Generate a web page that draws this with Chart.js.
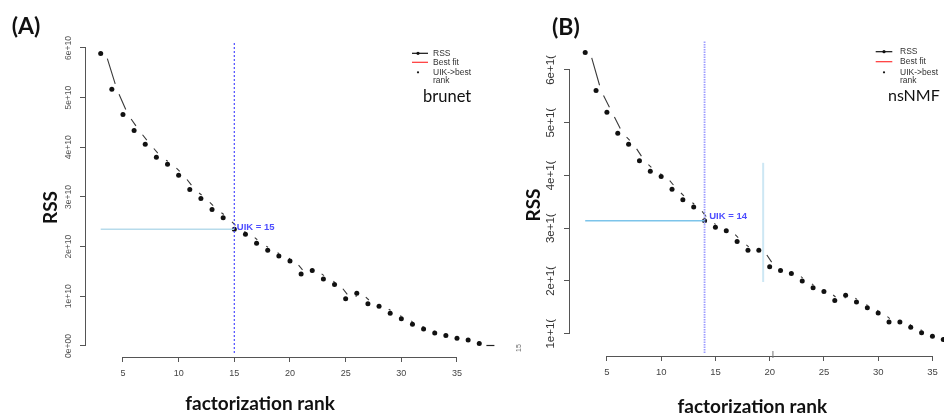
<!DOCTYPE html>
<html lang="en">
<head>
<meta charset="UTF-8">
<title>RSS by factorization rank: brunet and nsNMF</title>
<script src="https://cdn.jsdelivr.net/npm/chart.js"></script>
<style>
    * { margin: 0; padding: 0; box-sizing: border-box; }
    body { background: #fff; width: 948px; height: 414px; overflow: hidden; position: relative; }
    canvas { position: absolute; top: 0; }
    #chartA { left: 0; }
    #chartB { left: 474px; }
</style>
</head>
<body>
<canvas id="chartA" width="560" height="414"></canvas>
<canvas id="chartB" width="474" height="414"></canvas>
<script>
// RSS values are in units of 1e10
const ranksA = [3, 4, 5, 6, 7, 8, 9, 10, 11, 12, 13, 14, 15, 16, 17, 18, 19, 20,
                21, 22, 23, 24, 25, 26, 27, 28, 29, 30, 31, 32, 33, 34, 35, 36, 37, 38];
const rssA = [5.89, 5.17, 4.66, 4.34, 4.06, 3.80, 3.66, 3.44, 3.15, 2.97, 2.75, 2.58, 2.35, 2.25, 2.07, 1.93, 1.81, 1.71,
              1.45, 1.52, 1.35, 1.24, 0.95, 1.06, 0.85, 0.80, 0.66, 0.55, 0.44, 0.34, 0.26, 0.21, 0.155, 0.12, 0.05, 0.01];
const uikA = 15;

const ranksB = [3, 4, 5, 6, 7, 8, 9, 10, 11, 12, 13, 14, 15, 16, 17, 18, 19, 20,
                21, 22, 23, 24, 25, 26, 27, 28, 29, 30, 31, 32, 33, 34, 35, 36];
const rssB = [6.33, 5.61, 5.20, 4.80, 4.59, 4.28, 4.08, 3.98, 3.74, 3.54, 3.40, 3.14, 3.02, 2.95, 2.75, 2.58, 2.58, 2.27,
              2.20, 2.14, 2.00, 1.87, 1.80, 1.63, 1.73, 1.60, 1.49, 1.39, 1.22, 1.22, 1.12, 1.02, 0.95, 0.89];
const uikB = 14;

const xTicks = [5, 10, 15, 20, 25, 30, 35];
const yTicksA = [0, 1, 2, 3, 4, 5, 6];
const yLabelsA = ['0e+00', '1e+10', '2e+10', '3e+10', '4e+10', '5e+10', '6e+10'];
const yTicksB = [1, 2, 3, 4, 5, 6];
const yLabelsB = ['1e+1(', '2e+1(', '3e+1(', '4e+1(', '5e+1(', '6e+1('];

// extra light-blue guide in panel B: rank, top RSS, bottom RSS
const guideB = [19.4, 4.24, 1.98];

const rFont = '"Liberation Sans", Arial, sans-serif';
const pptFont = 'Lato, "Open Sans", sans-serif';

// R "type b" look: segments between points with a gap at each end
function gappedLine(ctx, pts, gap, dx) {
    ctx.beginPath();
    for (let i = 0; i < pts.length - 1; i++) {
        const a = pts[i], b = pts[i + 1];
        const vx = b.x - a.x, vy = b.y - a.y;
        const len = Math.hypot(vx, vy);
        if (len <= gap * 2 + 0.5) continue;
        const ux = vx / len, uy = vy / len;
        ctx.moveTo(a.x + dx + ux * gap, a.y + uy * gap);
        ctx.lineTo(b.x + dx - ux * gap, b.y - uy * gap);
    }
    ctx.stroke();
}

function text(ctx, str, x, y, font, color, align, rot) {
    ctx.save();
    ctx.translate(x, y);
    if (rot) ctx.rotate(rot);
    ctx.font = font;
    ctx.fillStyle = color;
    ctx.textAlign = align || 'left';
    ctx.textBaseline = 'middle';
    ctx.fillText(str, 0, 0);
    ctx.restore();
}

function decor(p) {
    return {
        id: 'decor',
        beforeDatasetsDraw(chart) {
            const ctx = chart.ctx;
            const meta = chart.getDatasetMeta(2);
            ctx.save();
            ctx.strokeStyle = '#3a3a3a';
            ctx.lineWidth = 1.1;
            gappedLine(ctx, meta.data.map(e => ({ x: e.x, y: e.y })), 5.5, 5);
            ctx.restore();
        },
        afterDraw(chart) {
            const ctx = chart.ctx;
            const xs = chart.scales.x, ys = chart.scales.y, area = chart.chartArea;
            ctx.save();
            // R-style axis lines spanning the tick range only
            ctx.strokeStyle = '#555';
            ctx.lineWidth = 1;
            ctx.beginPath();
            ctx.moveTo(area.left - 0.5, ys.getPixelForValue(p.yTicks[0]));
            ctx.lineTo(area.left - 0.5, ys.getPixelForValue(p.yTicks[p.yTicks.length - 1]));
            ctx.moveTo(xs.getPixelForValue(xTicks[0]), area.bottom + 0.5);
            ctx.lineTo(xs.getPixelForValue(xTicks[xTicks.length - 1]), area.bottom + 0.5);
            ctx.stroke();
            ctx.restore();

            // rotated y tick labels
            p.yTicks.forEach((v, i) => {
                text(ctx, p.yLabels[i], p.yLabelX, ys.getPixelForValue(v),
                     p.yLabelSize + 'px ' + rFont, p.yLabelColor, 'center', -Math.PI / 2);
            });

            // UIK label next to the chosen rank
            const uikY = p.rss[p.ranks.indexOf(p.uik)];
            text(ctx, 'UIK = ' + p.uik, xs.getPixelForValue(p.uik) + p.uikDx, ys.getPixelForValue(uikY) + p.uikDy,
                 'bold 9.5px ' + rFont, '#4d4dff', 'left');

            // legend
            const L = p.legend;
            ctx.save();
            ctx.lineWidth = 1.2;
            ctx.strokeStyle = '#111';
            ctx.beginPath();
            ctx.moveTo(L.x1, L.rows[0]); ctx.lineTo(L.x2, L.rows[0]);
            ctx.stroke();
            ctx.fillStyle = '#111';
            ctx.beginPath(); ctx.arc(L.dot, L.rows[0], 1.6, 0, Math.PI * 2); ctx.fill();
            ctx.strokeStyle = '#ff3333';
            ctx.beginPath();
            ctx.moveTo(L.x1, L.rows[1]); ctx.lineTo(L.x2, L.rows[1]);
            ctx.stroke();
            ctx.beginPath(); ctx.arc(L.dot, L.rows[2], 1.1, 0, Math.PI * 2); ctx.fill();
            ctx.restore();
            ['RSS', 'Best fit', 'UIK->best', 'rank'].forEach((s, i) => {
                text(ctx, s, L.tx, L.rows[i], '8.5px ' + rFont, '#333', 'left');
            });

            // overlay labels
            text(ctx, p.method, p.methodPos[0], p.methodPos[1], p.methodSize + 'px ' + pptFont, '#111', 'left');
            text(ctx, p.tag, p.tagPos[0], p.tagPos[1], 'bold 23px ' + pptFont, '#111', 'left');
            text(ctx, 'RSS', p.yTitlePos[0], p.yTitlePos[1], 'bold 19px ' + pptFont, '#111', 'center', -Math.PI / 2);
            text(ctx, 'factorization rank', p.xTitlePos[0], p.xTitlePos[1], 'bold 19px ' + pptFont, '#111', 'center');

            if (p.extra) p.extra(chart);
        }
    };
}

function panel(id, p) {
    const pts = p.ranks.map((r, i) => ({ x: r, y: p.rss[i] }));
    const uikY = p.rss[p.ranks.indexOf(p.uik)];
    return new Chart(document.getElementById(id), {
        type: 'scatter',
        data: {
            datasets: [
                {
                    type: 'line',
                    data: [{ x: p.ranks[0], y: uikY }, { x: p.uik, y: uikY }],
                    borderColor: p.hColor, borderWidth: 1.4, pointRadius: 0
                },
                {
                    type: 'line',
                    data: [{ x: p.uik, y: p.vTop }, { x: p.uik, y: p.vBottom }],
                    borderColor: p.vColor, borderWidth: p.vWidth, borderDash: p.vDash, pointRadius: 0
                },
                {
                    label: 'RSS',
                    data: pts,
                    pointStyle: p.ranks.map(r => r === p.dashRank ? 'line' : 'circle'),
                    pointRadius: p.ranks.map(r => r === p.dashRank ? 4 : 2.5),
                    pointBorderWidth: p.ranks.map(r => r === p.dashRank ? 1.2 : 0),
                    pointBorderColor: '#222',
                    pointBackgroundColor: '#111'
                }
            ]
        },
        options: {
            responsive: false,
            animation: false,
            devicePixelRatio: 1,
            layout: { padding: { top: 30, right: p.padRight, left: 0, bottom: 0 } },
            plugins: { legend: { display: false }, tooltip: { enabled: false } },
            scales: {
                x: {
                    type: 'linear', min: p.xMin, max: p.xMax,
                    afterBuildTicks: s => { s.ticks = xTicks.map(v => ({ value: v })); },
                    afterFit: s => { s.height = p.xAxisH; },
                    border: { display: false },
                    grid: { drawOnChartArea: false, drawTicks: true, tickLength: 5, color: '#555' },
                    ticks: { autoSkip: false, maxRotation: 0, padding: 6, color: '#444',
                             font: { family: rFont, size: p.xLabelSize } }
                },
                y: {
                    type: 'linear', min: p.yMin, max: p.yMax,
                    afterBuildTicks: s => { s.ticks = p.yTicks.map(v => ({ value: v })); },
                    afterFit: s => { s.width = p.yAxisW; },
                    border: { display: false },
                    grid: { drawOnChartArea: false, drawTicks: true, tickLength: 6, color: '#555' },
                    ticks: { display: false }
                }
            }
        },
        plugins: [decor(p)]
    });
}

panel('chartA', {
    ranks: ranksA, rss: rssA, uik: uikA, dashRank: 38,
    xMin: 1.68, xMax: 40.03, yMin: -0.2215, yMax: 6.362,
    padRight: 47, yAxisW: 86, xAxisH: 57,
    yTicks: yTicksA, yLabels: yLabelsA, yLabelX: 69, yLabelSize: 8.5, yLabelColor: '#555', xLabelSize: 9,
    hColor: '#b7dbeb', vColor: '#4a4aff', vWidth: 1.2, vDash: [2, 2], vTop: 6.1, vBottom: -0.16,
    uikDx: 2.5, uikDy: -1.5,
    legend: { x1: 412, x2: 428, dot: 418, tx: 433, rows: [53.3, 62.3, 72.3, 81] },
    method: 'brunet', methodPos: [423, 97], methodSize: 16.5,
    tag: '(A)', tagPos: [11.7, 26.7], yTitlePos: [51, 207.5], xTitlePos: [260, 403.7],
    extra(chart) {
        const xs = chart.scales.x, ys = chart.scales.y;
        text(chart.ctx, '15', xs.getPixelForValue(40.6), ys.getPixelForValue(-0.04),
             '7px ' + rFont, '#666', 'center', -Math.PI / 2);
    }
});

panel('chartB', {
    ranks: ranksB, rss: rssB, uik: uikB, dashRank: null,
    xMin: 1.599, xMax: 36.066, yMin: 0.577, yMax: 6.758,
    padRight: 0, yAxisW: 96, xAxisH: 58,
    yTicks: yTicksB, yLabels: yLabelsB, yLabelX: 76.7, yLabelSize: 11.5, yLabelColor: '#333', xLabelSize: 9.5,
    hColor: '#7cc4ea', vColor: '#9d9dff', vWidth: 1.8, vDash: [1.5, 1], vTop: 6.54, vBottom: 0.62,
    uikDx: 4.7, uikDy: -4,
    legend: { x1: 401.7, x2: 418.3, dot: 410, tx: 426, rows: [51.7, 61.7, 72.3, 80.7] },
    method: 'nsNMF', methodPos: [414, 95.7], methodSize: 16,
    tag: '(B)', tagPos: [78, 27.7], yTitlePos: [60, 205], xTitlePos: [278.3, 407],
    extra(chart) {
        const ctx = chart.ctx, xs = chart.scales.x, ys = chart.scales.y;
        ctx.save();
        ctx.strokeStyle = '#cde7f4';
        ctx.lineWidth = 2;
        ctx.beginPath();
        ctx.moveTo(xs.getPixelForValue(guideB[0]), ys.getPixelForValue(guideB[1]));
        ctx.lineTo(xs.getPixelForValue(guideB[0]), ys.getPixelForValue(guideB[2]));
        ctx.stroke();
        // small stray tick above the x axis
        ctx.strokeStyle = '#777';
        ctx.lineWidth = 1;
        ctx.beginPath();
        ctx.moveTo(xs.getPixelForValue(20.3), chart.chartArea.bottom - 5);
        ctx.lineTo(xs.getPixelForValue(20.3), chart.chartArea.bottom + 2);
        ctx.stroke();
        ctx.restore();
    }
});
</script>
</body>
</html>
